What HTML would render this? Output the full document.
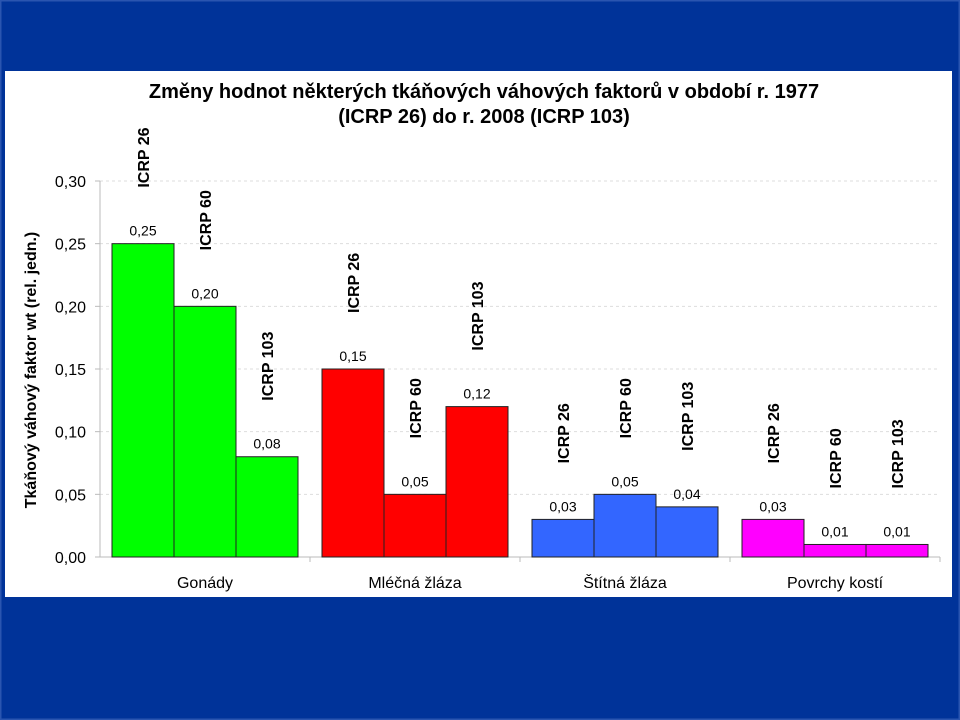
<!DOCTYPE html>
<html><head><meta charset="utf-8"><style>
body{margin:0;background:#003399;}
svg{display:block;font-family:"Liberation Sans",sans-serif;}
</style></head><body>
<svg width="960" height="720">
<rect x="0" y="0" width="960" height="720" fill="#003399"/>
<rect x="0.5" y="0.5" width="959" height="719" fill="none" stroke="#2a55b0" stroke-width="2"/>
<rect x="5" y="71" width="947" height="526" fill="#fff"/>
<text x="484" y="98" text-anchor="middle" font-size="20" font-weight="bold">Změny hodnot některých tkáňových váhových faktorů v období r. 1977</text>
<text x="484" y="123" text-anchor="middle" font-size="20" font-weight="bold">(ICRP 26) do r. 2008 (ICRP 103)</text>
<text transform="translate(36,370) rotate(-90)" text-anchor="middle" font-size="16" font-weight="bold">Tkáňový váhový faktor wt (rel. jedn.)</text>
<g id="grid"></g><g id="bars"></g><g id="labels"></g>
</svg>
<script>
const categories=["Gonády","Mléčná žláza","Štítná žláza","Povrchy kostí"];
const series=["ICRP 26","ICRP 60","ICRP 103"];
const values=[[0.25,0.20,0.08],[0.15,0.05,0.12],[0.03,0.05,0.04],[0.03,0.01,0.01]];
const valueLabels=[["0,25","0,20","0,08"],["0,15","0,05","0,12"],["0,03","0,05","0,04"],["0,03","0,01","0,01"]];
const yTicks=[0,0.05,0.10,0.15,0.20,0.25,0.30];
const yTickLabels=["0,00","0,05","0,10","0,15","0,20","0,25","0,30"];
const colors=["#00ff00","#ff0000","#3366ff","#ff00ff"];
const NS="http://www.w3.org/2000/svg";
const x0=100,x1=940,yB=557,yT=181,yMax=0.30;
const y=v=>yB-(v/yMax)*(yB-yT);
const gw=(x1-x0)/categories.length,bw=62,pad=12;
function mk(t,a,p,txt){const e=document.createElementNS(NS,t);for(const k in a)e.setAttribute(k,a[k]);if(txt!==undefined)e.textContent=txt;p.appendChild(e);return e;}
const G=document.getElementById('grid'),B=document.getElementById('bars'),L=document.getElementById('labels');
yTicks.forEach((t,i)=>{
 if(t>0){const g=mk('line',{x1:x0,x2:x1,y1:y(t),y2:y(t),stroke:'#ddd','stroke-dasharray':'3,3'},G);
 
 }
 const tk=mk('line',{x1:x0-5,x2:x0,y1:y(t),y2:y(t),stroke:'#bbb'},G);
 
 
 const tl=mk('text',{x:x0-14,y:y(t)+6,'text-anchor':'end','font-size':16},G,yTickLabels[i]);
 
 
});
const ax=mk('line',{x1:x0,x2:x0,y1:yT,y2:yB,stroke:'#bbb'},G);


const xa=mk('line',{x1:x0,x2:x1,y1:yB,y2:yB,stroke:'#bbb'},G);


categories.forEach((c,ci)=>{
 const gx=x0+ci*gw;
 const t=mk('line',{x1:gx+gw,x2:gx+gw,y1:yB,y2:yB+5,stroke:'#bbb'},G);
 
 
 const cl=mk('text',{x:gx+gw/2,y:588,'text-anchor':'middle','font-size':16},L,c);
 
 
 values[ci].forEach((v,si)=>{
  const bx=gx+pad+si*bw,top=y(v);
  const r=mk('rect',{x:bx,y:top,width:bw,height:yB-top,fill:colors[ci],stroke:'#222','stroke-width':1},B);
  
  
  const vl=mk('text',{x:bx+bw/2,y:top-8,'text-anchor':'middle','font-size':14},L,valueLabels[ci][si]);
  
  
  const sl=mk('text',{transform:'translate('+(bx+bw/2+6)+','+(top-56)+') rotate(-90)','font-size':16,'font-weight':'bold'},L,series[si]);
  
  
 });
});
</script>
</body></html>
